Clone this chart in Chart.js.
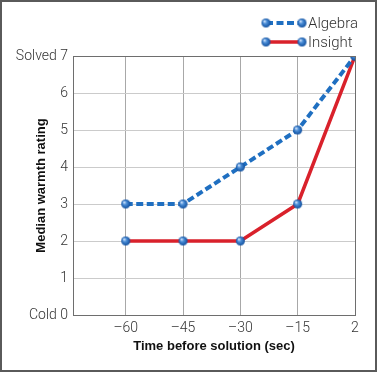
<!DOCTYPE html>
<html>
<head>
<meta charset="utf-8">
<script src="https://cdn.jsdelivr.net/npm/chart.js@4"></script>
<style>
  html, body { margin: 0; padding: 0; background: #fff; }
  #wrap { width: 377px; height: 372px; }
</style>
</head>
<body>
<div id="wrap"><canvas id="chart" width="377" height="372"></canvas></div>
<script>
const xLabels = ['\u201360', '\u201345', '\u201330', '\u201315', '2'];
const algebraValues = [3, 3, 4, 5, 7];
const insightValues = [2, 2, 2, 3, 7];
const yTickLabels = ['Cold 0', '1', '2', '3', '4', '5', '6', 'Solved 7'];
const seriesNames = ['Algebra', 'Insight'];

const TEXT_FONT = 'Roboto, "Liberation Sans", sans-serif';

// shaded ball used as the point marker
const makeBall = (r) => {
    const c = document.createElement('canvas');
    c.width = c.height = r * 2 + 2;
    const g = c.getContext('2d');
    const cx = r + 1, cy = r + 1;
    const grad = g.createRadialGradient(cx - r * 0.35, cy - r * 0.4, r * 0.1, cx, cy, r);
    grad.addColorStop(0, '#cfe3fb');
    grad.addColorStop(0.35, '#4d8fd8');
    grad.addColorStop(1, '#0f4f9e');
    g.fillStyle = grad;
    g.beginPath();
    g.arc(cx, cy, r, 0, Math.PI * 2);
    g.fill();
    return c;
};
const ball = makeBall(4.5);

const toPoints = (vals) => vals.map((v, i) => ({ x: i + 1, y: v }));

const frame = {
    id: 'frame',
    afterDraw(chart) {
        const { ctx, chartArea: a } = chart;
        ctx.save();
        ctx.strokeStyle = '#6e6e6e';
        ctx.lineWidth = 1;
        ctx.strokeRect(Math.round(a.left) + 0.5, Math.round(a.top) + 0.5, Math.round(a.right - a.left), Math.round(a.bottom - a.top));
        ctx.lineWidth = 2;
        ctx.strokeStyle = '#5a5a5a';
        ctx.strokeRect(1, 1, chart.width - 2, chart.height - 2);

        // legend: line sample with a ball at each end
        chart.data.datasets.forEach((ds, i) => {
            const y = 23 + i * 19;
            ctx.save();
            ctx.strokeStyle = ds.borderColor;
            ctx.lineWidth = ds.borderWidth;
            ctx.setLineDash(ds.borderDash || []);
            ctx.beginPath();
            ctx.moveTo(266, y);
            ctx.lineTo(302, y);
            ctx.stroke();
            ctx.restore();
            [266, 302].forEach(px => ctx.drawImage(ball, px - ball.width / 2, y - ball.height / 2));
            ctx.fillStyle = '#333';
            ctx.font = '300 15px ' + TEXT_FONT;
            ctx.textBaseline = 'middle';
            ctx.textAlign = 'left';
            ctx.fillText(ds.label, 308, y + 1);
        });
        ctx.restore();
    }
};

new Chart(document.getElementById('chart'), {
    type: 'line',
    data: {
        datasets: [
            {
                label: seriesNames[0],
                data: toPoints(algebraValues),
                borderColor: '#1f6fc1',
                borderWidth: 4,
                borderDash: [7, 3.5],
                pointStyle: ball,
                tension: 0,
                fill: false
            },
            {
                label: seriesNames[1],
                data: toPoints(insightValues),
                borderColor: '#d9212b',
                borderWidth: 3.5,
                pointStyle: ball,
                tension: 0,
                fill: false
            }
        ]
    },
    options: {
        responsive: false,
        animation: false,
        layout: { padding: { top: 56, right: 22, left: 0, bottom: 0 } },
        plugins: { legend: { display: false }, tooltip: { enabled: false } },
        scales: {
            x: {
                type: 'linear',
                min: 0.08,
                max: 5,
                afterBuildTicks: (s) => { s.ticks = xLabels.map((_, i) => ({ value: i + 1 })); },
                afterFit: (s) => { s.height = 57; },
                grid: { color: '#a8a8a8', lineWidth: 1, drawTicks: false },
                border: { color: '#6e6e6e' },
                ticks: {
                    padding: 5,
                    color: '#333',
                    font: { family: TEXT_FONT, size: 14, weight: '300' },
                    callback: (v) => xLabels[v - 1],
                    maxRotation: 0
                },
                title: {
                    display: true,
                    text: 'Time before solution (sec)',
                    color: '#111',
                    font: { family: '"Liberation Sans", Arial, sans-serif', size: 13, weight: 'bold' },
                    padding: { bottom: 18, top: 0 }
                }
            },
            y: {
                min: 0,
                max: 7,
                afterFit: (s) => { s.width = 73; },
                grid: { color: '#cbcbcb', lineWidth: 1, drawTicks: false },
                border: { color: '#6e6e6e' },
                ticks: {
                    stepSize: 1,
                    padding: 5,
                    color: '#333',
                    font: { family: TEXT_FONT, size: 14, weight: '300' },
                    callback: (v) => yTickLabels[v]
                },
                title: {
                    display: true,
                    text: 'Median warmth rating',
                    color: '#111',
                    font: { family: '"Liberation Sans", Arial, sans-serif', size: 13, weight: 'bold' },
                    padding: { top: 34, bottom: 0 }
                }
            }
        }
    },
    plugins: [frame]
});
</script>
</body>
</html>
